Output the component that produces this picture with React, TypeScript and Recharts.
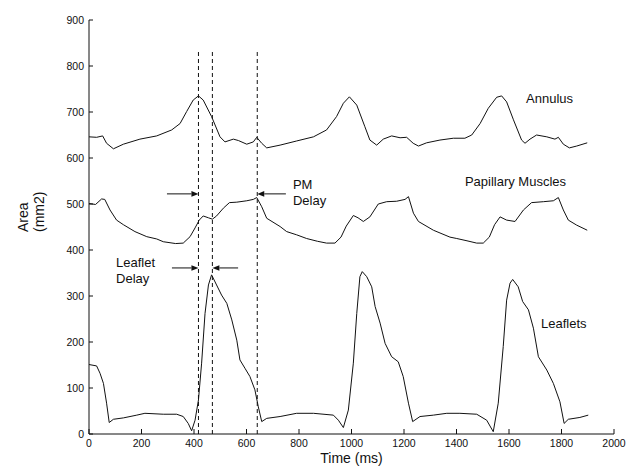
import React from "react";
import {
  LineChart,
  Line,
  XAxis,
  YAxis,
  ReferenceLine,
  ReferenceDot,
} from "recharts";

// values (time in ms, area in mm2)
const annulusTime = [0, 29, 52, 67, 93, 131, 194, 258, 315, 347, 372, 397, 417, 435, 467, 499, 518, 550, 569, 601, 626, 639, 658, 677, 728, 791, 855, 905, 943, 969, 992, 1020, 1051, 1070, 1096, 1121, 1153, 1185, 1210, 1235, 1255, 1286, 1337, 1388, 1432, 1458, 1490, 1521, 1553, 1572, 1591, 1617, 1648, 1661, 1680, 1705, 1744, 1775, 1788, 1807, 1830, 1858, 1898];
const annulusArea = [646, 645, 648, 632, 620, 630, 641, 648, 661, 675, 701, 726, 735, 726, 690, 646, 635, 641, 638, 630, 635, 645, 632, 622, 628, 637, 646, 661, 690, 719, 733, 715, 668, 639, 628, 641, 648, 644, 645, 632, 626, 633, 639, 643, 643, 650, 675, 708, 732, 735, 722, 683, 639, 632, 641, 650, 646, 641, 645, 630, 622, 626, 633];

const muscleTime = [0, 25, 48, 60, 80, 105, 131, 175, 220, 258, 283, 330, 359, 385, 404, 420, 435, 455, 470, 486, 512, 535, 563, 601, 626, 639, 658, 677, 728, 753, 791, 829, 870, 905, 937, 960, 980, 1007, 1025, 1045, 1070, 1102, 1134, 1172, 1204, 1217, 1236, 1255, 1312, 1375, 1401, 1440, 1477, 1502, 1525, 1545, 1566, 1591, 1623, 1655, 1686, 1731, 1769, 1788, 1807, 1826, 1858, 1898];
const muscleArea = [501, 499, 511, 510, 487, 465, 455, 440, 429, 424, 418, 414, 415, 429, 448, 465, 474, 470, 467, 474, 491, 503, 504, 507, 510, 514, 494, 469, 451, 440, 433, 425, 419, 415, 415, 428, 452, 475, 470, 462, 472, 500, 505, 506, 510, 516, 480, 462, 443, 428, 425, 420, 415, 415, 428, 455, 472, 465, 462, 487, 503, 505, 507, 514, 487, 465, 454, 443];

const leafletTime = [0, 29, 42, 55, 67, 77, 93, 131, 182, 213, 283, 334, 359, 378, 391, 404, 417, 429, 442, 455, 467, 486, 505, 525, 544, 563, 575, 594, 613, 632, 645, 658, 677, 728, 791, 855, 931, 950, 969, 988, 1007, 1020, 1032, 1041, 1058, 1077, 1090, 1109, 1128, 1153, 1178, 1197, 1217, 1233, 1261, 1312, 1363, 1413, 1477, 1515, 1540, 1559, 1578, 1591, 1604, 1614, 1635, 1652, 1674, 1693, 1712, 1744, 1769, 1794, 1810, 1826, 1870, 1902];
const leafletArea = [151, 148, 132, 110, 67, 25, 32, 35, 41, 45, 43, 43, 38, 23, 7, 30, 74, 154, 262, 324, 346, 324, 302, 284, 248, 204, 161, 143, 125, 96, 59, 27, 34, 38, 45, 45, 41, 30, 14, 52, 154, 262, 342, 353, 342, 320, 277, 241, 197, 168, 157, 125, 67, 27, 38, 41, 45, 45, 43, 30, 5, 67, 190, 291, 328, 336, 320, 288, 270, 230, 168, 139, 110, 70, 23, 32, 36, 41];

const xTicks = [0, 200, 400, 600, 800, 1000, 1200, 1400, 1600, 1800, 2000];
const yTicks = [0, 100, 200, 300, 400, 500, 600, 700, 800, 900];

// dashed markers
const markerTimes = [417, 470, 641];

const toPoints = (t: number[], v: number[]) =>
  t.map((time, i) => ({ t: time, v: v[i] }));

const annulusData = toPoints(annulusTime, annulusArea);
const muscleData = toPoints(muscleTime, muscleArea);
const leafletData = toPoints(leafletTime, leafletArea);

const FONT = "'Liberation Sans', Arial, Helvetica, sans-serif";
const INK = "#111";

const ArrowLine = (props: any) => {
  const { x1, y1, x2, y2 } = props;
  const dir = x2 > x1 ? 1 : -1;
  const len = 7;
  return (
    <g>
      <line x1={x1} y1={y1} x2={x2 - dir * len} y2={y2} stroke={INK} strokeWidth={1} />
      <polygon
        points={`${x2},${y2} ${x2 - dir * len},${y2 - 2.8} ${x2 - dir * len},${y2 + 2.8}`}
        fill={INK}
      />
    </g>
  );
};

const textShape = (lines: string[]) => (props: any) => (
  <text x={props.cx} y={props.cy} fontSize={13} fontFamily={FONT} fill={INK}>
    {lines.map((l, i) => (
      <tspan key={i} x={props.cx} dy={i === 0 ? 0 : 16}>
        {l}
      </tspan>
    ))}
  </text>
);

const XLabel = (props: any) => {
  const { viewBox } = props;
  return (
    <text
      x={viewBox.x + viewBox.width / 2}
      y={viewBox.y + 29}
      textAnchor="middle"
      fontSize={14}
      fontFamily={FONT}
      fill={INK}
    >
      Time (ms)
    </text>
  );
};

const YLabel = () => (
  <text
    transform="rotate(-90, 28, 232)"
    x={28}
    y={232}
    fontSize={14}
    fontFamily={FONT}
    fill={INK}
  >
    <tspan x={28} dy={0}>Area</tspan>
    <tspan x={28} dy={16}>(mm2)</tspan>
  </text>
);

const tickStyle = { fontSize: 10.5, fill: INK, fontFamily: FONT };

export default function App() {
  return (
    <div style={{ position: "absolute", left: 0, top: 0, width: 637, height: 470, background: "#fff" }}>
      <LineChart
        width={637}
        height={470}
        margin={{ top: 20, right: 23, bottom: 0, left: 29 }}
      >
        <XAxis
          type="number"
          dataKey="t"
          domain={[0, 2000]}
          ticks={xTicks}
          height={36}
          tickSize={-5}
          tickMargin={11}
          stroke={INK}
          tick={tickStyle}
          allowDataOverflow
          label={<XLabel />}
        />
        <YAxis
          type="number"
          domain={[0, 900]}
          ticks={yTicks}
          width={60}
          tickSize={-4}
          tickMargin={9}
          stroke={INK}
          tick={tickStyle}
          label={<YLabel />}
        />

        {markerTimes.map((m) => (
          <ReferenceLine
            key={m}
            segment={[{ x: m, y: 0 }, { x: m, y: 835 }]}
            stroke={INK}
            strokeWidth={1}
            strokeDasharray="4 3"
          />
        ))}

        <Line data={annulusData} dataKey="v" stroke={INK} strokeWidth={1} dot={false} type="linear" isAnimationActive={false} />
        <Line data={muscleData} dataKey="v" stroke={INK} strokeWidth={1} dot={false} type="linear" isAnimationActive={false} />
        <Line data={leafletData} dataKey="v" stroke={INK} strokeWidth={1} dot={false} type="linear" isAnimationActive={false} />

        {/* delay arrows */}
        <ReferenceLine segment={[{ x: 297, y: 522 }, { x: 417, y: 522 }]} shape={ArrowLine} />
        <ReferenceLine segment={[{ x: 750, y: 522 }, { x: 641, y: 522 }]} shape={ArrowLine} />
        <ReferenceLine segment={[{ x: 316, y: 361 }, { x: 417, y: 361 }]} shape={ArrowLine} />
        <ReferenceLine segment={[{ x: 568, y: 361 }, { x: 470, y: 361 }]} shape={ArrowLine} />

        {/* annotations */}
        <ReferenceDot x={1665} y={720} r={0} shape={textShape(["Annulus"])} />
        <ReferenceDot x={1432} y={539} r={0} shape={textShape(["Papillary Muscles"])} />
        <ReferenceDot x={1722} y={230} r={0} shape={textShape(["Leaflets"])} />
        <ReferenceDot x={777} y={533} r={0} shape={textShape(["PM", "Delay"])} />
        <ReferenceDot x={103} y={363} r={0} shape={textShape(["Leaflet", "Delay"])} />
      </LineChart>
    </div>
  );
}
